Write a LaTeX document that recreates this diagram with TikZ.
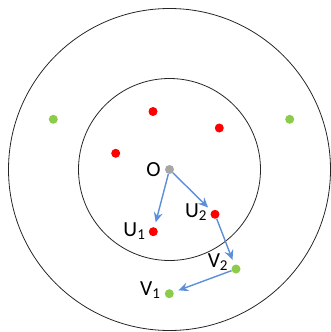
\documentclass[tikz,border=0pt]{standalone}
\usepackage{fontspec}
\setmainfont{Carlito}
\usetikzlibrary{arrows.meta,positioning}
\definecolor{Ink}{HTML}{000000}
\definecolor{Ring}{HTML}{262626}
\definecolor{DotRed}{HTML}{FF0000}
\definecolor{DotGreen}{HTML}{8DCB4B}
\definecolor{DotGray}{HTML}{A6A6A6}
\definecolor{Blue}{HTML}{5B8FD9}
\tikzset{
  ring/.style={draw=Ring,line width=0.8pt},
  reddot/.style={circle,fill=DotRed,inner sep=0pt,minimum size=9pt},
  greendot/.style={circle,fill=DotGreen,inner sep=0pt,minimum size=9pt},
  graydot/.style={circle,fill=DotGray,inner sep=0pt,minimum size=9pt},
  lbl/.style={font=\fontsize{21.5}{24}\selectfont,text=Ink,inner sep=0pt},
  line/.style={-{Stealth[length=10pt,width=9pt,inset=3.5pt]},draw=Blue,line width=1.4pt,shorten >=5pt}
}

\begin{document}
\begin{tikzpicture}[x=1pt,y=-1pt]
  \useasboundingbox (0,0) rectangle (331,332);
  \node[graydot] (o) at (169.5,169.5) {};
  \draw[ring] (o.center) circle[radius=161];
  \draw[ring] (o.center) circle[radius=91];
  % inner ring points
  \node[reddot] (r1) at (153,111.5) {};
  \node[reddot] (r2) at (219.3,128) {};
  \node[reddot] (r3) at (115.7,153.3) {};
  \node[reddot] (u1) at (153.3,231.7) {};
  \node[reddot] (u2) at (215,214.3) {};
  % outer ring points
  \node[greendot] (g1) at (53.3,119.3) {};
  \node[greendot] (g2) at (289.7,119.3) {};
  \node[greendot] (v2) at (236,269) {};
  \node[greendot] (v1) at (169.3,293.7) {};
  % labels
  \node[lbl,left=4pt of o] (olbl) {O};
  \node[lbl,left=3pt of u1,yshift=1pt] (u1lbl) {U\textsubscript{1}};
  \node[lbl,left=3pt of u2,yshift=2pt] (u2lbl) {U\textsubscript{2}};
  \node[lbl,left=3pt of v2,yshift=7pt] (v2lbl) {V\textsubscript{2}};
  \node[lbl,left=4pt of v1,yshift=4pt] (v1lbl) {V\textsubscript{1}};
  % moves
  \draw[line] (o) -- (u1);
  \draw[line] (o) -- (u2);
  \draw[line] (u2) -- (v2);
  \draw[line] (v2) -- (v1);
\end{tikzpicture}
\end{document}
